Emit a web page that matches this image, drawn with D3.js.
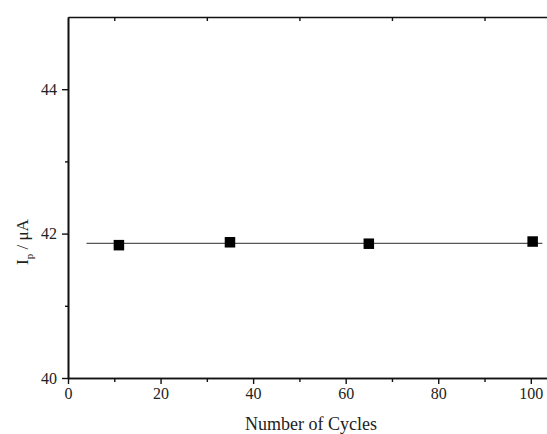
<!DOCTYPE html>
<html>
  <head>
    <style>
      body { margin: 0; background: #fff; }
      svg text { font-family: 'Liberation Serif', 'Times New Roman', serif; fill: #222; }
    </style>
  </head>
  <body>
    <svg id="svg" width="547" height="434"></svg>
    <script src="https://cdn.jsdelivr.net/npm/d3@7"></script>
    <script>
      // values
      const cycles = [11, 35, 65, 100.4];
      const peakCurrent = [41.84, 41.88, 41.86, 41.89];
      const fitX = [4, 102.5];
      const fitY = 41.865;
      const xMajor = [0, 20, 40, 60, 80, 100];
      const xMinor = [10, 30, 50, 70, 90];
      const yMajor = [40, 42, 44];
      const yMinor = [41, 43];

      const plotLeft = 68, plotRight = 547, plotTop = 17, plotBottom = 378;

      const x = d3.scaleLinear().domain([0, 103.5]).range([plotLeft, plotRight]);
      const y = d3.scaleLinear().domain([40, 45]).range([plotBottom, plotTop]);

      const svg = d3.select('#svg');

      const styleAxis = (g) => {
        g.attr('font-family', null).attr('font-size', null);
        g.selectAll('path.domain').attr('stroke', '#111').attr('stroke-width', 1.6);
        g.selectAll('.tick line').attr('stroke', '#111').attr('stroke-width', 1.4);
        g.selectAll('.tick text')
          .style('font-size', '16px')
          .style('font-family', "'Liberation Serif', 'Times New Roman', serif")
          .attr('fill', '#222');
      };

      // bottom axis
      svg.append('g')
        .attr('transform', `translate(0, ${plotBottom})`)
        .call(d3.axisBottom(x).tickValues(xMajor).tickSize(6).tickSizeOuter(0).tickPadding(4).tickFormat(d3.format('d')))
        .call(styleAxis);
      svg.append('g')
        .attr('transform', `translate(0, ${plotBottom})`)
        .call(d3.axisBottom(x).tickValues(xMinor).tickSize(4).tickSizeOuter(0).tickFormat(''))
        .call(styleAxis);

      // top frame with inward minor ticks
      svg.append('g')
        .attr('transform', `translate(0, ${plotTop})`)
        .call(d3.axisTop(x).tickValues(xMinor).tickSize(-4).tickSizeOuter(0).tickFormat(''))
        .call(styleAxis);

      // left axis
      svg.append('g')
        .attr('transform', `translate(${plotLeft}, 0)`)
        .call(d3.axisLeft(y).tickValues(yMajor).tickSize(6).tickSizeOuter(0).tickPadding(5).tickFormat(d3.format('d')))
        .call(styleAxis);
      svg.append('g')
        .attr('transform', `translate(${plotLeft}, 0)`)
        .call(d3.axisLeft(y).tickValues(yMinor).tickSize(3).tickSizeOuter(0).tickFormat(''))
        .call(styleAxis);

      // fitted horizontal line
      svg.append('line')
        .attr('x1', x(fitX[0]))
        .attr('x2', x(fitX[1]))
        .attr('y1', y(fitY))
        .attr('y2', y(fitY))
        .attr('stroke', '#555')
        .attr('stroke-width', 1.2);

      // data points
      const size = 10.5;
      svg.append('g')
        .selectAll('rect')
        .data(cycles.map((c, i) => ({ c, v: peakCurrent[i] })))
        .join('rect')
        .attr('x', (d) => x(d.c) - size / 2)
        .attr('y', (d) => y(d.v) - size / 2)
        .attr('width', size)
        .attr('height', size)
        .attr('fill', '#000');

      // axis titles
      svg.append('text')
        .attr('x', 311)
        .attr('y', 430)
        .attr('text-anchor', 'middle')
        .style('font-size', '18px')
        .text('Number of Cycles');

      const yl = svg.append('text')
        .attr('transform', `translate(28, 242) rotate(-90)`)
        .attr('text-anchor', 'middle')
        .style('font-size', '17px');
      yl.append('tspan').text('I');
      yl.append('tspan').attr('dy', 5).style('font-size', '11px').text('p');
      yl.append('tspan').attr('dy', -5).text(' / \u03bcA');
    </script>
  </body>
</html>
